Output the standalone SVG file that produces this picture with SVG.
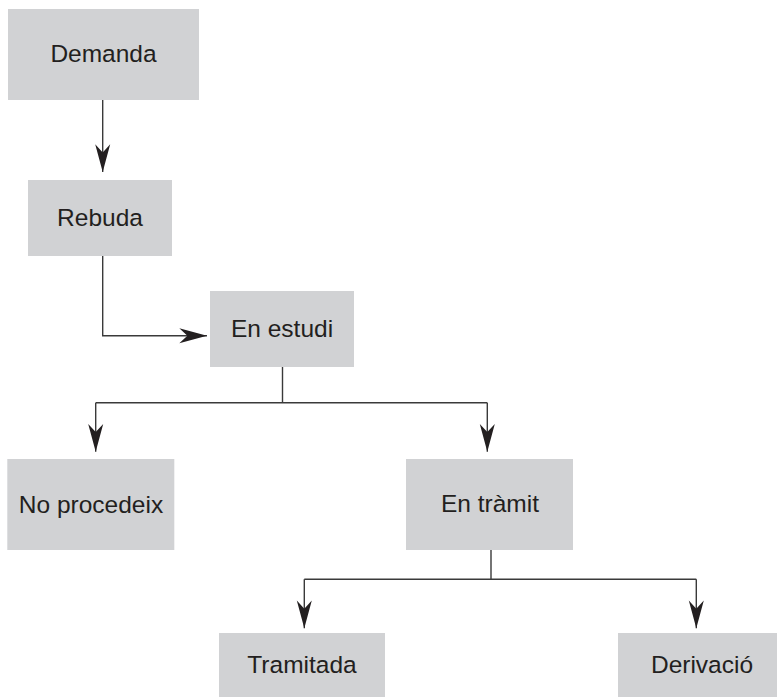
<svg xmlns="http://www.w3.org/2000/svg" width="777" height="697" viewBox="0 0 777 697">
<style>
.box{fill:#d1d2d4;}
.lbl{font-family:"Liberation Sans",Arial,sans-serif;font-size:24.5px;fill:#231f20;text-anchor:middle;}
.con{fill:none;stroke:#3a3a3a;stroke-width:1.4;}
</style>
<defs>
<marker id="ah" markerUnits="userSpaceOnUse" markerWidth="30" markerHeight="20" viewBox="-25 -8 26 16" refX="0" refY="0" orient="auto">
<path d="M0,0 L-24,-6.5 L-17,0 L-24,6.5 Z" fill="#231f20"/>
</marker>
</defs>
<rect width="777" height="697" fill="#ffffff"/>
<g id="connectors">
<path class="con" d="M102.7,100 V172" marker-end="url(#ah)"/>
<path class="con" d="M102.7,255.7 V335.7 H207" marker-end="url(#ah)"/>
<path class="con" d="M282.5,366.7 V402.7"/>
<path class="con" d="M95.7,402.7 H487.3"/>
<path class="con" d="M95.7,402.7 V451.7" marker-end="url(#ah)"/>
<path class="con" d="M487.3,402.7 V451.7" marker-end="url(#ah)"/>
<path class="con" d="M491,550 V579.3"/>
<path class="con" d="M304.3,579.3 H696.3"/>
<path class="con" d="M304.3,579.3 V628.3" marker-end="url(#ah)"/>
<path class="con" d="M696.3,579.3 V628.3" marker-end="url(#ah)"/>
</g>
<g id="demanda"><rect class="box" x="8" y="9" width="191" height="91"/><text class="lbl" x="103.5" y="62">Demanda</text></g>
<g id="rebuda"><rect class="box" x="28" y="180" width="144" height="76"/><text class="lbl" x="100" y="225.5">Rebuda</text></g>
<g id="en-estudi"><rect class="box" x="210" y="291" width="144" height="76"/><text class="lbl" x="282" y="337">En estudi</text></g>
<g id="no-procedeix"><rect class="box" x="7.3" y="459" width="167" height="91"/><text class="lbl" x="91" y="513">No procedeix</text></g>
<g id="en-tramit"><rect class="box" x="406" y="459" width="167" height="91"/><text class="lbl" x="490" y="512">En tràmit</text></g>
<g id="tramitada"><rect class="box" x="219" y="633" width="166" height="70"/><text class="lbl" x="302" y="673">Tramitada</text></g>
<g id="derivacio"><rect class="box" x="618" y="633" width="166" height="70"/><text class="lbl" x="702" y="673">Derivació</text></g>
</svg>
